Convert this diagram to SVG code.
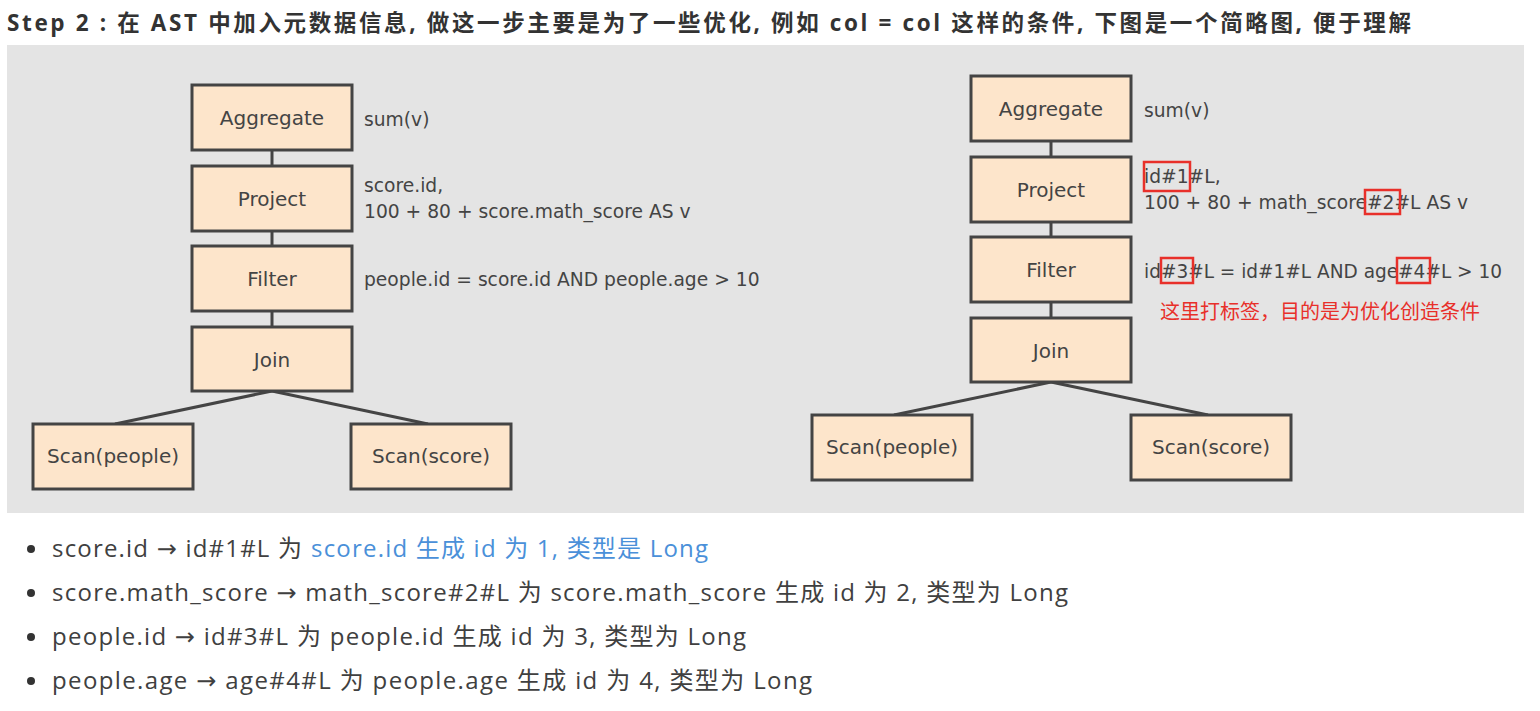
<svg xmlns="http://www.w3.org/2000/svg" width="1540" height="711" viewBox="0 0 1540 711">
<style>
.box{fill:#fde5cb;stroke:#444;stroke-width:3}
.bt{font-family:"DejaVu Sans",sans-serif;font-size:20px;fill:#444;text-anchor:middle}
.ann{font-family:"DejaVu Sans",sans-serif;font-size:18.7px;fill:#444}
.con{stroke:#444;stroke-width:3;fill:none}
.hl{fill:none;stroke:#e8302a;stroke-width:2.5}
.title{font-family:"Open Sans","Noto Sans CJK SC",sans-serif;font-size:22.5px;font-weight:bold;fill:#333}
.bul{font-family:"Open Sans","Noto Sans CJK SC",sans-serif;font-size:24px;fill:#404040}
.arr{font-family:"DejaVu Sans",sans-serif}
.blue{fill:#4a90d9}
</style>
<rect width="1540" height="711" fill="#fff"/>
<text class="title" x="7" y="31" textLength="1404" lengthAdjust="spacing">Step 2 : 在 AST 中加入元数据信息, 做这一步主要是为了一些优化, 例如 col = col 这样的条件, 下图是一个简略图, 便于理解</text>
<rect x="7" y="45" width="1517" height="468" fill="#e4e4e4"/>
<g id="connectors">
<line class="con" x1="272" y1="150" x2="272" y2="165"/>
<line class="con" x1="272" y1="231" x2="272" y2="246"/>
<line class="con" x1="272" y1="311" x2="272" y2="327"/>
<line class="con" x1="272" y1="391" x2="115" y2="424"/>
<line class="con" x1="272" y1="391" x2="428" y2="424"/>
<line class="con" x1="1051" y1="141" x2="1051" y2="157"/>
<line class="con" x1="1051" y1="222" x2="1051" y2="237"/>
<line class="con" x1="1051" y1="302" x2="1051" y2="318"/>
<line class="con" x1="1051" y1="382" x2="894" y2="415"/>
<line class="con" x1="1051" y1="382" x2="1208" y2="415"/>
</g>
<g id="l-aggregate"><rect class="box" x="192" y="85" width="160" height="65"/><text class="bt" x="272" y="125">Aggregate</text></g>
<g id="l-project"><rect class="box" x="192" y="166" width="160" height="65"/><text class="bt" x="272" y="206">Project</text></g>
<g id="l-filter"><rect class="box" x="192" y="246" width="160" height="65"/><text class="bt" x="272" y="286">Filter</text></g>
<g id="l-join"><rect class="box" x="192" y="327" width="160" height="64"/><text class="bt" x="272" y="367">Join</text></g>
<g id="l-scanpeople"><rect class="box" x="33" y="424" width="160" height="65"/><text class="bt" x="113" y="463">Scan(people)</text></g>
<g id="l-scanscore"><rect class="box" x="351" y="424" width="160" height="65"/><text class="bt" x="431" y="463">Scan(score)</text></g>
<g id="l-ann">
<text class="ann" x="364" y="126">sum(v)</text>
<text class="ann" x="364" y="192">score.id,</text>
<text class="ann" x="364" y="218">100 + 80 + score.math_score AS v</text>
<text class="ann" x="364" y="286">people.id = score.id AND people.age &gt; 10</text>
</g>
<g id="r-aggregate"><rect class="box" x="971" y="76" width="160" height="65"/><text class="bt" x="1051" y="116">Aggregate</text></g>
<g id="r-project"><rect class="box" x="971" y="157" width="160" height="65"/><text class="bt" x="1051" y="197">Project</text></g>
<g id="r-filter"><rect class="box" x="971" y="237" width="160" height="65"/><text class="bt" x="1051" y="277">Filter</text></g>
<g id="r-join"><rect class="box" x="971" y="318" width="160" height="64"/><text class="bt" x="1051" y="358">Join</text></g>
<g id="r-scanpeople"><rect class="box" x="812" y="415" width="160" height="65"/><text class="bt" x="892" y="454">Scan(people)</text></g>
<g id="r-scanscore"><rect class="box" x="1131" y="415" width="160" height="65"/><text class="bt" x="1211" y="454">Scan(score)</text></g>
<g id="r-ann">
<text class="ann" x="1144" y="117">sum(v)</text>
<text class="ann" x="1144" y="183">id#1#L,</text>
<text class="ann" x="1144" y="209">100 + 80 + math_score#2#L AS v</text>
<text class="ann" x="1144" y="278" textLength="358" lengthAdjust="spacingAndGlyphs">id#3#L = id#1#L AND age#4#L &gt; 10</text>
<rect class="hl" x="1144" y="162" width="46" height="29"/>
<rect class="hl" x="1365" y="190" width="35" height="24"/>
<rect class="hl" x="1161" y="258" width="32" height="25"/>
<rect class="hl" x="1397" y="258" width="33" height="25"/>
<text x="1160" y="319" font-family="'Noto Sans CJK SC',sans-serif" font-size="20" fill="#e8302a">这里打标签，目的是为优化创造条件</text>
</g>
<g id="bullets">
<circle cx="31" cy="549" r="4" fill="#333"/>
<text class="bul" x="52" y="557" textLength="250" lengthAdjust="spacing">score.id <tspan class="arr">→</tspan> id#1#L 为</text>
<text class="bul blue" x="311" y="557" textLength="397" lengthAdjust="spacing">score.id 生成 id 为 1, 类型是 Long</text>
<circle cx="31" cy="593" r="4" fill="#333"/>
<text class="bul" x="52" y="601" textLength="1016" lengthAdjust="spacing">score.math_score <tspan class="arr">→</tspan> math_score#2#L 为 score.math_score 生成 id 为 2, 类型为 Long</text>
<circle cx="31" cy="637" r="4" fill="#333"/>
<text class="bul" x="52" y="645" textLength="694" lengthAdjust="spacing">people.id <tspan class="arr">→</tspan> id#3#L 为 people.id 生成 id 为 3, 类型为 Long</text>
<circle cx="31" cy="681" r="4" fill="#333"/>
<text class="bul" x="52" y="689" textLength="760" lengthAdjust="spacing">people.age <tspan class="arr">→</tspan> age#4#L 为 people.age 生成 id 为 4, 类型为 Long</text>
</g>
</svg>
